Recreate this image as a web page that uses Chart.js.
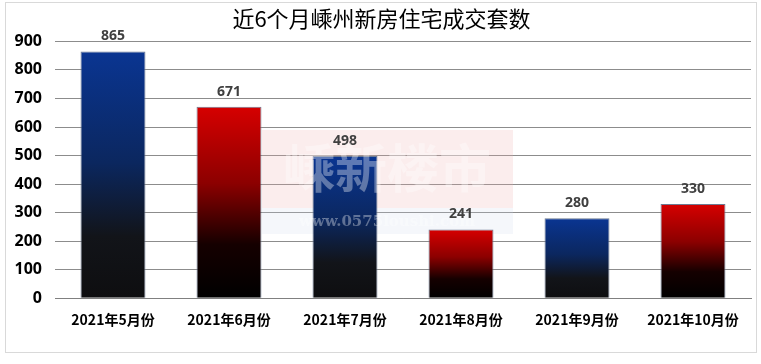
<!DOCTYPE html>
<html lang="zh">
<head>
<meta charset="UTF-8">
<title>近6个月嵊州新房住宅成交套数</title>
<script src="https://cdn.jsdelivr.net/npm/chart.js"></script>
<style>
  html, body { margin: 0; padding: 0; background: #fff; }
  #wrap { width: 761px; height: 364px; }
</style>
</head>
<body>
<div id="wrap"><canvas id="myChart" width="761" height="364"></canvas></div>
<script>
const months = ['2021年5月份', '2021年6月份', '2021年7月份', '2021年8月份', '2021年9月份', '2021年10月份'];
const sales = [865, 671, 498, 241, 280, 330];
const barTone = ['blue', 'red', 'blue', 'red', 'blue', 'red'];
const yTicks = [0, 100, 200, 300, 400, 500, 600, 700, 800, 900];

const tones = {
  blue: [[0, '#0a3592'], [0.45, '#0b275f'], [0.75, '#121419'], [1, '#0e0e10']],
  red: [[0, '#d60000'], [0.4, '#8c0000'], [0.72, '#150000'], [1, '#000000']]
};

function barFill(ctx) {
  const chart = ctx.chart;
  if (!chart.chartArea || !chart.scales.y) return '#333';
  const y = chart.scales.y;
  const top = y.getPixelForValue(sales[ctx.dataIndex]);
  const base = y.getPixelForValue(0);
  const g = chart.ctx.createLinearGradient(0, top, 0, base);
  tones[barTone[ctx.dataIndex]].forEach(s => g.addColorStop(s[0], s[1]));
  return g;
}

// frame around the whole picture
const framePlugin = {
  id: 'frame',
  beforeDraw(chart) {
    const c = chart.ctx;
    c.save();
    c.strokeStyle = '#d9d9d9';
    c.lineWidth = 1;
    c.strokeRect(5.5, 2.5, 751, 350);
    c.restore();
  }
};

// numbers above the bars
const valuePlugin = {
  id: 'values',
  afterDatasetsDraw(chart) {
    const c = chart.ctx;
    const meta = chart.getDatasetMeta(0);
    c.save();
    c.font = 'bold 14px "Open Sans", "Noto Sans", sans-serif';
    c.fillStyle = '#404040';
    c.textAlign = 'center';
    c.textBaseline = 'bottom';
    meta.data.forEach((bar, i) => {
      c.fillText(String(sales[i]), bar.x, bar.y - 8);
    });
    c.restore();
  }
};

// faint site watermark in the middle
const markPlugin = {
  id: 'mark',
  beforeDatasetsDraw(chart) {
    const c = chart.ctx;
    c.save();
    c.fillStyle = 'rgba(236, 175, 175, 0.22)';
    c.fillRect(262, 130, 251, 78);
    c.fillStyle = 'rgba(205, 215, 235, 0.2)';
    c.fillRect(262, 208, 251, 26);
    c.restore();
  },
  afterDatasetsDraw(chart) {
    const c = chart.ctx;
    c.save();
    c.fillStyle = 'rgba(255, 255, 255, 0.35)';
    c.textAlign = 'center';
    c.textBaseline = 'middle';
    c.font = 'bold 52px "Noto Sans CJK SC", serif';
    c.fillText('嵊新楼市', 387, 168);
    c.font = 'bold 15px "DejaVu Serif", serif';
    c.fillText('www.0575loushi.com', 387, 222);
    c.restore();
  }
};

const ctx = document.getElementById('myChart').getContext('2d');
const myChart = new Chart(ctx, {
  type: 'bar',
  data: {
    labels: months,
    datasets: [{
      data: sales,
      backgroundColor: barFill,
      borderColor: '#6d7a92',
      borderWidth: 1,
      categoryPercentage: 1,
      barPercentage: 0.56
    }]
  },
  options: {
    responsive: false,
    animation: false,
    layout: { padding: { left: 12, right: 10, top: 0, bottom: 23 } },
    plugins: {
      legend: { display: false },
      tooltip: { enabled: false },
      title: {
        display: true,
        text: '近6个月嵊州新房住宅成交套数',
        color: '#000',
        font: { size: 22, family: '"Noto Sans CJK SC", sans-serif', weight: 'normal' },
        padding: { top: 5, bottom: 10 }
      }
    },
    scales: {
      x: {
        grid: { display: false, drawTicks: false },
        border: { display: true, color: '#808080', width: 1 },
        ticks: {
          color: '#000',
          padding: 13,
          maxRotation: 0,
          font: { size: 14, weight: 'bold', family: '"Noto Sans CJK SC", sans-serif' }
        }
      },
      y: {
        min: 0,
        max: 900,
        afterBuildTicks(axis) { axis.ticks = yTicks.map(v => ({ value: v })); },
        afterFit(axis) { axis.width = 43; },
        grid: { color: '#8c8c8c', drawTicks: false },
        border: { display: false },
        ticks: {
          color: '#000',
          padding: 13,
          font: { size: 16, weight: 'bold', family: '"Open Sans", "Noto Sans", sans-serif' }
        }
      }
    }
  },
  plugins: [framePlugin, valuePlugin, markPlugin]
});
</script>
</body>
</html>
